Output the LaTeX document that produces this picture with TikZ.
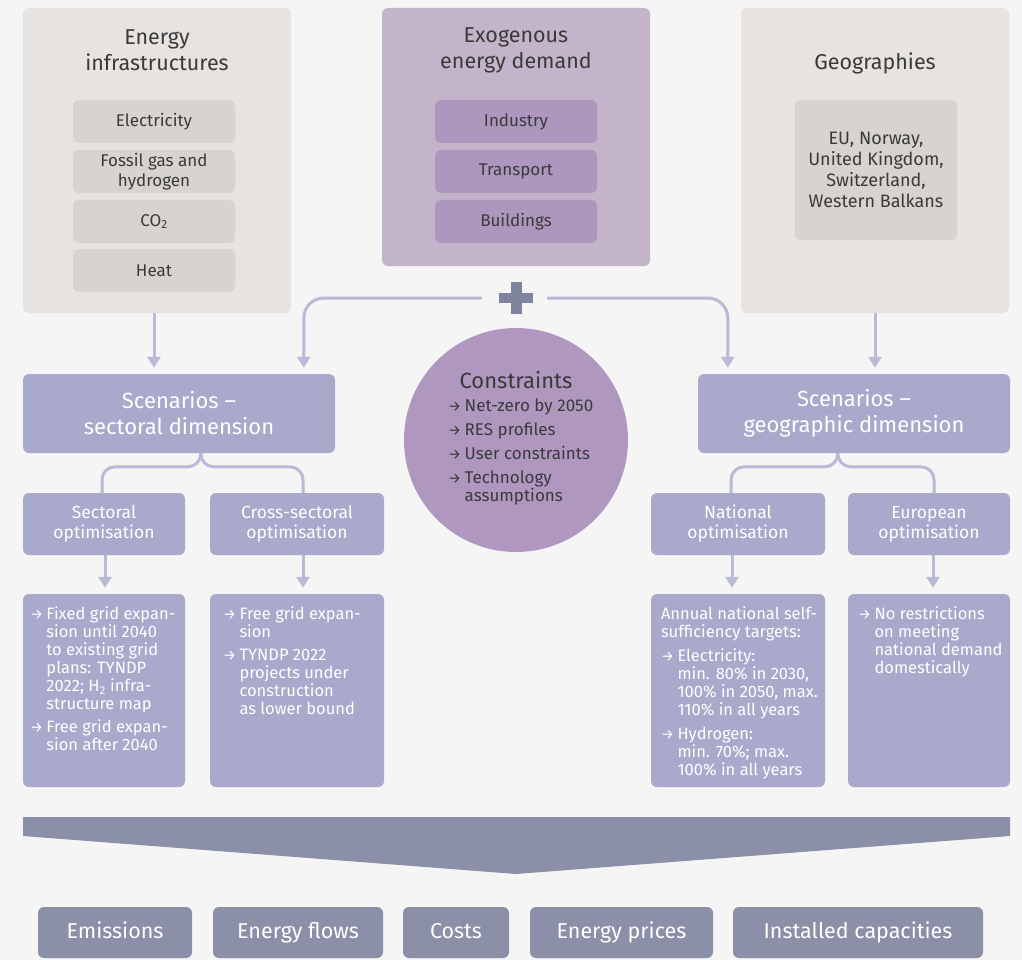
\documentclass[tikz,border=0pt]{standalone}
\usepackage{fontspec}
\setmainfont{Fira Sans}
\usetikzlibrary{arrows.meta,calc}
\definecolor{bgc}{HTML}{F5F5F5}
\definecolor{grayA}{HTML}{E6E3E0}
\definecolor{grayB}{HTML}{D7D3D0}
\definecolor{purA}{HTML}{C3B4C9}
\definecolor{purB}{HTML}{AE97BF}
\definecolor{circc}{HTML}{AF97C0}
\definecolor{lav}{HTML}{A9A9CC}
\definecolor{conn}{HTML}{B9B9D8}
\definecolor{slate}{HTML}{8B8FA8}
\definecolor{plusc}{HTML}{7F849D}
\definecolor{txt}{HTML}{3A3A3A}
\newcommand{\arw}{\makebox[16.5pt][l]{\raisebox{0.6pt}{\fontsize{14.5pt}{14.5pt}\selectfont →}}}
\newcommand{\indt}{\hspace*{16.5pt}}
\newcommand{\fsz}[2]{\fontsize{#1pt}{#2pt}\selectfont}
\begin{document}
\begin{tikzpicture}[x=1pt,y=-1pt,
  box/.style={rounded corners=6pt, inner sep=0pt, align=center},
  outerg/.style={box, fill=grayA},
  innerg/.style={box, fill=grayB, text=txt, font=\fsz{17}{20}, minimum width=162pt, minimum height=43pt},
  outerp/.style={box, fill=purA},
  innerp/.style={box, fill=purB, text=txt, font=\fsz{17}{20}, minimum width=162pt, minimum height=43pt},
  ttl/.style={text=txt, font=\fsz{21.5}{26}, align=center, inner sep=0pt},
  scen/.style={box, fill=lav, text=white, font=\fsz{22}{26}, minimum width=312pt, minimum height=79pt},
  opt/.style={box, fill=lav, text=white, font=\fsz{17.5}{20}, minimum height=62pt},
  det/.style={box, fill=lav, minimum height=193pt},
  dtxt/.style={text=white, font=\fsz{16.5}{18}, align=left, inner sep=0pt, anchor=north west},
  res/.style={box, fill=slate, text=white, font=\fsz{21.5}{24}, minimum height=51pt, text height=15pt, text depth=4pt},
  conn/.style={draw=conn, line width=3pt},
  arr/.style={conn, -{Triangle[width=13pt,length=11pt]}, shorten >=6pt}
]
\useasboundingbox (0,0) rectangle (1022,960);
\fill[bgc] (0,0) rectangle (1022,960);

% top boxes
\node[outerg, minimum width=268pt, minimum height=305pt] (infra) at (157,160.5) {};
\node[ttl] (infraT) at (157,50) {Energy\\infrastructures};
\node[innerg] (elec) at (154,121.5) {Electricity};
\node[innerg] (gas) at (154,171.5) {Fossil gas and\\hydrogen};
\node[innerg] (co2) at (154,221.5) {CO\textsubscript{2}};
\node[innerg] (heat) at (154,270.5) {Heat};

\node[outerp, minimum width=268pt, minimum height=258pt] (exo) at (516,137) {};
\node[ttl] (exoT) at (516,50) {Exogenous\\energy demand};
\node[innerp] (ind) at (516,121.5) {Industry};
\node[innerp] (tra) at (516,171.5) {Transport};
\node[innerp] (bld) at (516,221.5) {Buildings};

\node[outerg, minimum width=268pt, minimum height=305pt] (geo) at (875,160.5) {};
\node[ttl] (geoT) at (875,63) {Geographies};
\node[innerg, minimum height=140pt, font=\fsz{18}{21}] (geoI) at (876,170) {EU, Norway,\\United Kingdom,\\Switzerland,\\Western Balkans};

% plus
\node[minimum size=34pt, inner sep=0pt] (plus) at (516,298) {};
\fill[plusc] ($(plus.center)+(-17,-5)$) rectangle ($(plus.center)+(17,5)$);
\fill[plusc] ($(plus.center)+(-5.5,-16)$) rectangle ($(plus.center)+(5.5,16)$);

% scenario boxes
\node[scen] (sect) at (179,413.5) {Scenarios --\\sectoral dimension};
\node[scen] (geos) at (854,413.5) {Scenarios --\\geographic dimension};

% constraints circle
\node[circle, fill=circc, minimum size=224pt, inner sep=0pt] (cons) at (516,440) {};
\node[text=txt, font=\fsz{22}{24}, inner sep=0pt] (consT) at (516,380) {Constraints};
\node[text=txt, font=\fsz{17}{18}, align=left, inner sep=0pt, anchor=north west] (consL) at (448,399) {\arw Net-zero by 2050\\[6pt]\arw RES profiles\\[6pt]\arw User constraints\\[6pt]\arw Technology\\\indt assumptions};

% connectors top
\draw[arr] (elec.center |- infra.south) -- (elec.center |- sect.north);
\draw[arr] (geo.south) -- (geo.south |- geos.north);
\coordinate (pl) at ($(plus.west)+(-17,0)$);
\coordinate (pr) at ($(plus.east)+(14,0)$);
\draw[arr, rounded corners=20pt] (pl) -| ($(sect.north west)+(281,0)$);
\draw[arr, rounded corners=20pt] (pr) -| ($(geos.north west)+(30,0)$);

% optimisation boxes
\node[opt, minimum width=162pt] (sopt) at (104,524) {Sectoral\\optimisation};
\node[opt, minimum width=174pt] (copt) at (297,524) {Cross-sectoral\\optimisation};
\node[opt, minimum width=174pt] (nopt) at (738,524) {National\\optimisation};
\node[opt, minimum width=162pt] (eopt) at (929,524) {European\\optimisation};

% branches
\coordinate (sj) at ($(sect.south west)+(178,0)$);
\coordinate (sl) at ($(sopt.north)+(-2,0)$);
\coordinate (sr) at ($(copt.north)+(6,0)$);
\draw[conn, rounded corners=13pt] (sj) |- ($(sl)+(0,-26)$) -- (sl);
\draw[conn, rounded corners=13pt] (sj) |- ($(sr)+(0,-26)$) -- (sr);
\coordinate (gj) at ($(geos.south west)+(140,0)$);
\coordinate (gl) at ($(nopt.north)+(-7,0)$);
\coordinate (gr) at ($(eopt.north)+(5,0)$);
\draw[conn, rounded corners=13pt] (gj) |- ($(gl)+(0,-26)$) -- (gl);
\draw[conn, rounded corners=13pt] (gj) |- ($(gr)+(0,-26)$) -- (gr);

% detail boxes
\node[det, minimum width=162pt] (sdet) at (104,690.5) {};
\node[det, minimum width=174pt] (cdet) at (297,690.5) {};
\node[det, minimum width=174pt] (ndet) at (738,690.5) {};
\node[det, minimum width=162pt] (edet) at (929,690.5) {};

\draw[arr] ($(sopt.south)+(1,0)$) -- ($(sdet.north)+(1,0)$);
\draw[arr] ($(copt.south)+(6,0)$) -- ($(cdet.north)+(6,0)$);
\draw[arr] ($(nopt.south)+(-6,0)$) -- ($(ndet.north)+(-6,0)$);
\draw[arr] ($(eopt.south)+(4,0)$) -- ($(edet.north)+(4,0)$);

\node[dtxt] (sdetT) at ($(sdet.north west)+(7,13)$) {\arw Fixed grid expan-\\\indt sion until 2040\\\indt to existing grid\\\indt plans: TYNDP\\\indt 2022; H\textsubscript{2} infra-\\\indt structure map\\[5pt]\arw Free grid expan-\\\indt sion after 2040};
\node[dtxt] (cdetT) at ($(cdet.north west)+(13,13)$) {\arw Free grid expan-\\\indt sion\\[5pt]\arw TYNDP 2022\\\indt projects under\\\indt construction\\\indt as lower bound};
\node[dtxt] (ndetT) at ($(ndet.north west)+(10,13)$) {Annual national self-\\sufficiency targets:\\[6pt]\arw Electricity:\\\indt min. 80\% in 2030,\\\indt 100\% in 2050, max.\\\indt 110\% in all years\\[6pt]\arw Hydrogen:\\\indt min. 70\%; max.\\\indt 100\% in all years};
\node[dtxt] (edetT) at ($(edet.north west)+(10,13)$) {\arw No restrictions\\\indt on meeting\\\indt national demand\\\indt domestically};

% big arrow
\fill[slate] (23,817) -- (1010,817) -- (1010,836) -- (516,874) -- (23,836) -- cycle;

% results
\node[res, minimum width=154pt] (emi) at (115,932.5) {Emissions};
\node[res, minimum width=170pt] (flo) at (298,932.5) {Energy flows};
\node[res, minimum width=106pt] (cos) at (456,932.5) {Costs};
\node[res, minimum width=183pt] (pri) at (621.5,932.5) {Energy prices};
\node[res, minimum width=250pt] (cap) at (858,932.5) {Installed capacities};
\end{tikzpicture}
\end{document}
